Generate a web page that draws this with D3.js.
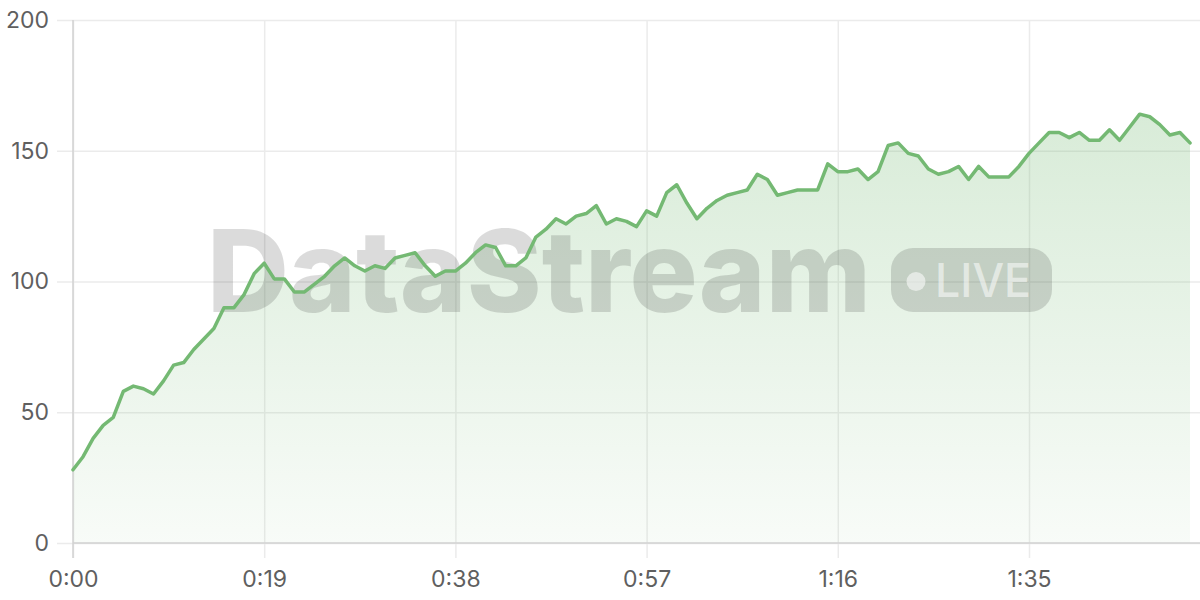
<!DOCTYPE html>
<html>
<head>
<meta charset="utf-8">
<script src="https://cdn.jsdelivr.net/npm/d3@7/dist/d3.min.js"></script>
<style>
  html, body { margin: 0; padding: 0; background: #fff; }
  svg { display: block; }
</style>
</head>
<body>
<svg id="chart" width="1200" height="600"></svg>
<script>
// Values, one per second (0:00 .. 1:51)
const values = [
  28, 33, 40, 45, 48, 58, 60, 59, 57, 62,
  68, 69, 74, 78, 82, 90, 90, 95, 103, 107,
  101, 101, 96, 96, 99, 102, 106, 109, 106, 104,
  106, 105, 109, 110, 111, 106, 102, 104, 104, 107,
  111, 114, 113, 106, 106, 109, 117, 120, 124, 122,
  125, 126, 129, 122, 124, 123, 121, 127, 125, 134,
  137, 130, 124, 128, 131, 133, 134, 135, 141, 139,
  133, 134, 135, 135, 135, 145, 142, 142, 143, 139,
  142, 152, 153, 149, 148, 143, 141, 142, 144, 139,
  144, 140, 140, 140, 144, 149, 153, 157, 157, 155,
  157, 154, 154, 158, 154, 159, 164, 163, 160, 156,
  157, 153
];
const xTicks = [0, 19, 38, 57, 76, 95];
const xTickLabels = ["0:00", "0:19", "0:38", "0:57", "1:16", "1:35"];
const yTicks = [0, 50, 100, 150, 200];
const yTickLabels = ["0", "50", "100", "150", "200"];
const watermarkTitle = "DataStream";
const watermarkBadge = "LIVE";

(function () {
const W = 1200, H = 600;
const mLeft = 73, mRight = 1190, mTop = 20, mBottom = 543;
const lineColor = "#74b973";
const fontFamily = "Inter, 'Noto Sans', sans-serif";

const svg = d3.select("#chart");
const x = d3.scaleLinear().domain([0, values.length - 1]).range([mLeft, mRight]);
const y = d3.scaleLinear().domain([0, 200]).range([mBottom, mTop]);

// gradient
const defs = svg.append("defs");
const grad = defs.append("linearGradient")
  .attr("id", "areaGrad").attr("gradientUnits", "userSpaceOnUse")
  .attr("x1", 0).attr("x2", 0).attr("y1", y(165)).attr("y2", y(0));
grad.append("stop").attr("offset", 0).attr("stop-color", lineColor).attr("stop-opacity", 0.28);
grad.append("stop").attr("offset", 1).attr("stop-color", lineColor).attr("stop-opacity", 0.05);

// horizontal grid
const yAxis = d3.axisLeft(y).tickValues(yTicks)
  .tickFormat((d, i) => yTickLabels[i])
  .tickSize(-(W - mLeft)).tickPadding(24);
const gy = svg.append("g").attr("transform", `translate(${mLeft},0)`).call(yAxis);
gy.select(".domain").remove();
gy.selectAll(".tick line").attr("x1", -16).attr("stroke", "#ebebeb").attr("stroke-width", 1.5);
gy.selectAll(".tick text").attr("fill", "#5f5f5f").attr("font-size", 23)
  .attr("font-family", fontFamily).attr("x", -24);

// vertical grid
const xAxis = d3.axisBottom(x).tickValues(xTicks)
  .tickFormat((d, i) => xTickLabels[i])
  .tickSize(15).tickPadding(13);
const gx = svg.append("g").attr("transform", `translate(0,${mBottom})`).call(xAxis);
gx.select(".domain").remove();
gx.selectAll(".tick line").attr("y1", -(mBottom - mTop)).attr("stroke", "#ebebeb").attr("stroke-width", 1.5);
gx.selectAll(".tick text").attr("fill", "#5f5f5f").attr("font-size", 23)
  .attr("font-family", fontFamily);

// area
const area = d3.area().x((d, i) => x(i)).y0(y(0)).y1(d => y(d));
svg.append("path").datum(values).attr("d", area).attr("fill", "url(#areaGrad)");

// axis lines
svg.append("line").attr("x1", mLeft).attr("x2", W).attr("y1", y(0)).attr("y2", y(0))
  .attr("stroke", "#d2d2d2").attr("stroke-width", 1.5);
svg.append("line").attr("x1", mLeft).attr("x2", mLeft).attr("y1", mTop).attr("y2", mBottom + 15)
  .attr("stroke", "#d2d2d2").attr("stroke-width", 1.5);

// watermark
const wm = svg.append("g").attr("pointer-events", "none");
wm.append("text").attr("x", 207).attr("y", 312)
  .attr("font-family", "Inter, 'Open Sans', sans-serif").attr("font-weight", 800)
  .attr("font-size", 114).attr("textLength", 664).attr("lengthAdjust", "spacingAndGlyphs")
  .attr("fill", "#000").attr("fill-opacity", 0.14).text(watermarkTitle);
wm.append("rect").attr("x", 891).attr("y", 248).attr("width", 161).attr("height", 64)
  .attr("rx", 22).attr("fill", "#000").attr("fill-opacity", 0.14);
wm.append("circle").attr("cx", 916).attr("cy", 281.5).attr("r", 9.5)
  .attr("fill", "#fff").attr("fill-opacity", 0.55);
wm.append("text").attr("x", 935).attr("y", 297)
  .attr("font-family", "Inter, 'Open Sans', sans-serif").attr("font-weight", 500)
  .attr("font-size", 46).attr("textLength", 96).attr("lengthAdjust", "spacingAndGlyphs")
  .attr("fill", "#fff").attr("fill-opacity", 0.55).text(watermarkBadge);

// line
const line = d3.line().x((d, i) => x(i)).y(d => y(d));
svg.append("path").datum(values).attr("d", line)
  .attr("fill", "none").attr("stroke", lineColor).attr("stroke-width", 3.5)
  .attr("stroke-linejoin", "round").attr("stroke-linecap", "round");
})();
</script>
</body>
</html>
